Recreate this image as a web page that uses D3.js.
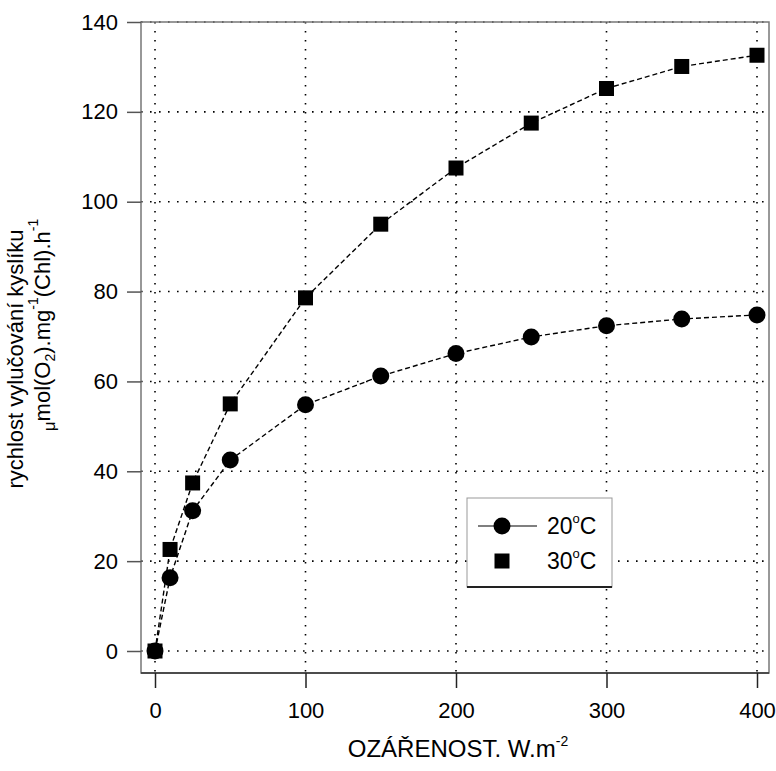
<!DOCTYPE html>
<html><head><meta charset="utf-8">
<script src="https://cdn.jsdelivr.net/npm/d3@7"></script>
<style>body{margin:0;background:#fff}svg{display:block}text{font-family:"Liberation Sans",Arial,sans-serif;fill:#000}</style>
</head><body><svg id="c" width="776" height="771"></svg>
<script>
const irradiance = [0, 10, 25, 50, 100, 150, 200, 250, 300, 350, 400];
const rate20 = [0, 16.3, 31.2, 42.5, 54.8, 61.2, 66.2, 69.9, 72.4, 73.9, 74.8];
const rate30 = [0, 22.6, 37.4, 55, 78.6, 95, 107.5, 117.5, 125.2, 130.1, 132.6];
const xTicks = [0, 100, 200, 300, 400];
const yTicks = [0, 20, 40, 60, 80, 100, 120, 140];
const seriesNames = ["20", "30"];

const svg = d3.select("#c");
const box = {l:141, t:22, r:769, b:673};
const x = d3.scaleLinear().domain([0,400]).range([155,757]);
const y = d3.scaleLinear().domain([0,140]).range([651,22]);

// grid
const g = svg.append("g");
g.selectAll(".gx").data(xTicks).join("line")
  .attr("x1", d=>x(d)).attr("x2", d=>x(d)).attr("y1", box.t).attr("y2", box.b)
  .attr("stroke","#000").attr("stroke-width",1.6).attr("stroke-dasharray","1.6,7.4");
g.selectAll(".gy").data(yTicks).join("line")
  .attr("y1", d=>y(d)).attr("y2", d=>y(d)).attr("x1", box.l).attr("x2", box.r)
  .attr("stroke","#000").attr("stroke-width",1.6).attr("stroke-dasharray","1.6,7.4");

// frame
svg.append("rect").attr("x",box.l).attr("y",box.t).attr("width",box.r-box.l).attr("height",box.b-box.t)
  .attr("fill","none").attr("stroke","#777").attr("stroke-width",1.5);
svg.append("line").attr("x1",box.l).attr("x2",box.r).attr("y1",box.b).attr("y2",box.b).attr("stroke","#333").attr("stroke-width",1.5);

// axes
const xAxis = d3.axisBottom(x).tickValues(xTicks).tickSize(15).tickPadding(14);
const xa = svg.append("g").attr("transform",`translate(0,${box.b})`).call(xAxis);
xa.select(".domain").remove();
xa.selectAll("text").attr("font-size",22).attr("font-family","Liberation Sans, Arial, sans-serif");
xa.selectAll("line").attr("stroke","#222").attr("stroke-width",1.5);
const yAxis = d3.axisLeft(y).tickValues(yTicks).tickSize(14).tickPadding(9);
const ya = svg.append("g").attr("transform",`translate(${box.l},0)`).call(yAxis);
ya.select(".domain").remove();
ya.selectAll("text").attr("font-size",22).attr("font-family","Liberation Sans, Arial, sans-serif");
ya.selectAll("line").attr("stroke","#555").attr("stroke-width",1.5);

// lines
const line = d3.line().x((d,i)=>x(irradiance[i])).y(d=>y(d));
[rate20, rate30].forEach(s=>{
  svg.append("path").attr("d", line(s)).attr("fill","none").attr("stroke","#000")
    .attr("stroke-width",1.4).attr("stroke-dasharray","5,3");
});
svg.selectAll(".c20").data(rate20).join("circle")
  .attr("cx",(d,i)=>x(irradiance[i])).attr("cy",d=>y(d)).attr("r",8.5).attr("fill","#000");
svg.selectAll(".s30").data(rate30).join("rect")
  .attr("x",(d,i)=>x(irradiance[i])-7.5).attr("y",d=>y(d)-7.5).attr("width",15).attr("height",15).attr("fill","#000");

// legend
const lg = svg.append("g");
lg.append("rect").attr("x",467).attr("y",498).attr("width",145).attr("height",89).attr("fill","#fff").attr("stroke","#999").attr("stroke-width",1);
lg.append("line").attr("x1",467).attr("x2",612).attr("y1",587).attr("y2",587).attr("stroke","#222").attr("stroke-width",2);
lg.append("line").attr("x1",478).attr("x2",537).attr("y1",526).attr("y2",526).attr("stroke","#555").attr("stroke-width",1.5);
lg.append("circle").attr("cx",502).attr("cy",526).attr("r",8.5).attr("fill","#000");
lg.append("rect").attr("x",494.5).attr("y",553.5).attr("width",15).attr("height",15).attr("fill","#000");
seriesNames.forEach((n,i)=>{
  const t = lg.append("text").attr("x",547).attr("y",534+i*35).attr("font-size",23);
  t.append("tspan").text(n);
  t.append("tspan").attr("font-size",13).attr("dy",-11).text("o");
  t.append("tspan").attr("dy",11).text("C");
});

// x label
const xl = svg.append("text").attr("x",458).attr("y",757).attr("text-anchor","middle").attr("font-size",24);
xl.append("tspan").text("OZÁŘENOST. W.m");
xl.append("tspan").attr("font-size",14).attr("dy",-11).text("-2");

// y label
const yl1 = svg.append("g").attr("transform","translate(23,359) rotate(-90)");
yl1.append("text").attr("text-anchor","middle").attr("font-size",22).text("rychlost vylučování kyslíku");
const yl2 = svg.append("g").attr("transform","translate(50,325) rotate(-90)");
const t2 = yl2.append("text").attr("text-anchor","middle").attr("font-size",22);
t2.append("tspan").attr("font-size",17).attr("dy",5).text("μ");
t2.append("tspan").attr("dy",-5).text("mol(O");
t2.append("tspan").attr("font-size",14).attr("dy",5).text("2");
t2.append("tspan").attr("dy",-5).text(").mg");
t2.append("tspan").attr("font-size",14).attr("dy",-12).text("-1");
t2.append("tspan").attr("dy",12).text("(Chl).h");
t2.append("tspan").attr("font-size",14).attr("dy",-12).text("-1");
</script></body></html>
